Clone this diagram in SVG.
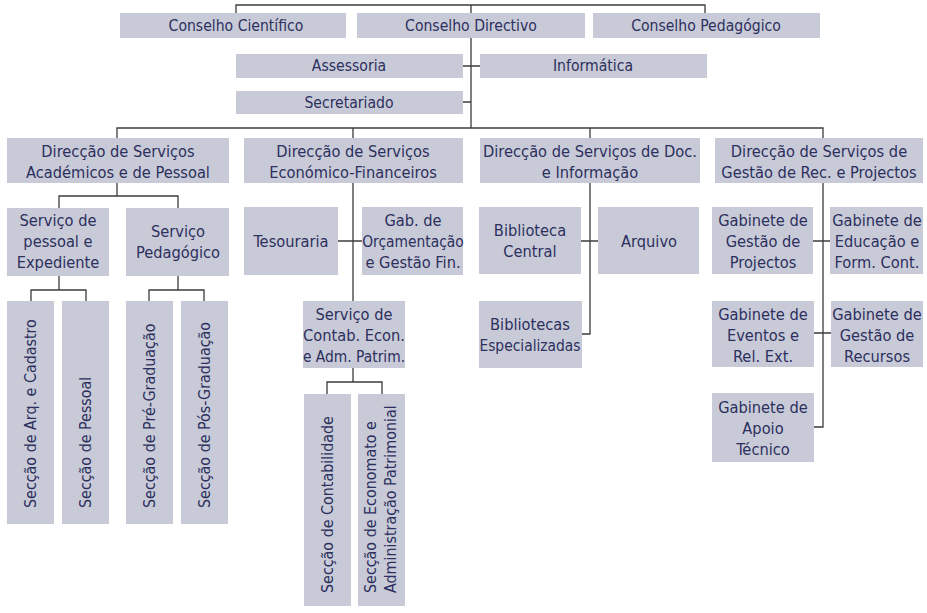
<svg xmlns="http://www.w3.org/2000/svg" width="927" height="613" viewBox="0 0 927 613">
<style>
  .box { fill: #c8cbd7; }
  .t { font-family: 'DejaVu Sans Condensed', 'DejaVu Sans', sans-serif; font-stretch: condensed; font-size: 16.3px; fill: #2d2f5e; text-anchor: middle; }
  .s { font-size: 15.6px; }
  .n { font-size: 15.4px; }
  .v { font-family: 'DejaVu Sans Condensed', 'DejaVu Sans', sans-serif; font-stretch: condensed; font-size: 15.9px; fill: #2d2f5e; text-anchor: start; }
  .c { fill: none; stroke: #3c3c3c; stroke-width: 1.3; }
</style>
<rect width="927" height="613" fill="#ffffff"/>
<g id="connectors">
  <path class="c" d="M236,13 V5 H705 V13 M471,5 V13 M471,38 V128"/>
  <path class="c" d="M463,66 H480 M463,102 H471"/>
  <path class="c" d="M117,138 V128 H823 V138 M353,128 V138 M590,128 V138"/>
  <path class="c" d="M117,183 V196 M59,208 V196 H178 V208"/>
  <path class="c" d="M59,276 V290 M31,301 V290 H86 V301"/>
  <path class="c" d="M178,276 V290 M149,301 V290 H204 V301"/>
  <path class="c" d="M353,183 V301 M338,241 H362"/>
  <path class="c" d="M353,368 V382 M327,394 V382 H382 V394"/>
  <path class="c" d="M590,183 V334 H582 M581,241 H598"/>
  <path class="c" d="M823,183 V427 H814 M813,241 H830 M814,333 H831"/>
</g>
<g id="conselho-cientifico"><rect class="box" x="120" y="13" width="226" height="25"/><text class="t s" x="236" y="31">Conselho Científico</text></g>
<g id="conselho-directivo"><rect class="box" x="357" y="13" width="228" height="25"/><text class="t s" x="471" y="31">Conselho Directivo</text></g>
<g id="conselho-pedagogico"><rect class="box" x="593" y="13" width="227" height="25"/><text class="t s" x="706" y="31">Conselho Pedagógico</text></g>
<g id="assessoria"><rect class="box" x="236" y="54" width="227" height="24"/><text class="t s" x="349" y="71">Assessoria</text></g>
<g id="informatica"><rect class="box" x="480" y="54" width="227" height="24"/><text class="t s" x="593" y="71">Informática</text></g>
<g id="secretariado"><rect class="box" x="236" y="91" width="227" height="23"/><text class="t s" x="349" y="108">Secretariado</text></g>

<g id="ds-academicos"><rect class="box" x="7" y="138" width="222" height="45"/><text class="t" x="118" y="157">Direcção de Serviços</text><text class="t" x="118" y="178">Académicos e de Pessoal</text></g>
<g id="ds-economico"><rect class="box" x="244" y="138" width="219" height="45"/><text class="t" x="353" y="157">Direcção de Serviços</text><text class="t" x="353" y="178">Económico-Financeiros</text></g>
<g id="ds-doc"><rect class="box" x="480" y="138" width="220" height="45"/><text class="t" x="590" y="157">Direcção de Serviços de Doc.</text><text class="t" x="590" y="178">e Informação</text></g>
<g id="ds-gestao"><rect class="box" x="715" y="138" width="208" height="45"/><text class="t" x="819" y="157">Direcção de Serviços de</text><text class="t" x="819" y="178">Gestão de Rec. e Projectos</text></g>

<g id="servico-pessoal"><rect class="box" x="7" y="208" width="102" height="68"/><text class="t" x="58" y="226">Serviço de</text><text class="t" x="58" y="247">pessoal e</text><text class="t" x="58" y="268">Expediente</text></g>
<g id="servico-pedagogico"><rect class="box" x="126" y="208" width="103" height="68"/><text class="t" x="178" y="237">Serviço</text><text class="t" x="178" y="258">Pedagógico</text></g>
<g id="tesouraria"><rect class="box" x="244" y="207" width="94" height="68"/><text class="t" x="291" y="247">Tesouraria</text></g>
<g id="gab-orcamentacao"><rect class="box" x="362" y="207" width="101" height="68"/><text class="t" x="413" y="226">Gab. de</text><text class="t n" x="413" y="247">Orçamentação</text><text class="t" x="413" y="268">e Gestão Fin.</text></g>
<g id="biblioteca-central"><rect class="box" x="479" y="207" width="102" height="67"/><text class="t" x="530" y="236">Biblioteca</text><text class="t" x="530" y="257">Central</text></g>
<g id="arquivo"><rect class="box" x="598" y="207" width="101" height="67"/><text class="t" x="649" y="247">Arquivo</text></g>
<g id="gab-gestao-projectos"><rect class="box" x="712" y="207" width="101" height="67"/><text class="t" x="763" y="226">Gabinete de</text><text class="t" x="763" y="247">Gestão de</text><text class="t" x="763" y="268">Projectos</text></g>
<g id="gab-educacao"><rect class="box" x="830" y="207" width="93" height="67"/><text class="t" x="877" y="226">Gabinete de</text><text class="t" x="877" y="247">Educação e</text><text class="t" x="877" y="268">Form. Cont.</text></g>

<g id="servico-contab"><rect class="box" x="303" y="301" width="102" height="67"/><text class="t" x="354" y="320">Serviço de</text><text class="t" x="354" y="341">Contab. Econ.</text><text class="t n" x="354" y="362">e Adm. Patrim.</text></g>
<g id="bibliotecas-especializadas"><rect class="box" x="479" y="301" width="103" height="67"/><text class="t" x="530" y="330">Bibliotecas</text><text class="t n" x="530" y="351">Especializadas</text></g>
<g id="gab-eventos"><rect class="box" x="712" y="301" width="102" height="66"/><text class="t" x="763" y="320">Gabinete de</text><text class="t" x="763" y="341">Eventos e</text><text class="t" x="763" y="362">Rel. Ext.</text></g>
<g id="gab-recursos"><rect class="box" x="831" y="301" width="92" height="66"/><text class="t" x="877" y="320">Gabinete de</text><text class="t" x="877" y="341">Gestão de</text><text class="t" x="877" y="362">Recursos</text></g>
<g id="gab-apoio"><rect class="box" x="712" y="393" width="102" height="69"/><text class="t" x="763" y="413">Gabinete de</text><text class="t" x="763" y="434">Apoio</text><text class="t" x="763" y="455">Técnico</text></g>

<g id="seccao-arq"><rect class="box" x="7" y="301" width="47" height="223"/><text class="v" transform="translate(36,508) rotate(-90)">Secção de Arq. e Cadastro</text></g>
<g id="seccao-pessoal"><rect class="box" x="62" y="301" width="47" height="223"/><text class="v" transform="translate(91,508) rotate(-90)">Secção de Pessoal</text></g>
<g id="seccao-pre"><rect class="box" x="126" y="301" width="47" height="223"/><text class="v" transform="translate(155,508) rotate(-90)">Secção de Pré-Graduação</text></g>
<g id="seccao-pos"><rect class="box" x="181" y="301" width="47" height="223"/><text class="v" transform="translate(210,508) rotate(-90)">Secção de Pós-Graduação</text></g>
<g id="seccao-contabilidade"><rect class="box" x="304" y="394" width="47" height="212"/><text class="v" transform="translate(333,593) rotate(-90)">Secção de Contabilidade</text></g>
<g id="seccao-economato"><rect class="box" x="358" y="394" width="47" height="212"/><text class="v" transform="translate(376,593) rotate(-90)">Secção de Economato e</text><text class="v" transform="translate(396,593) rotate(-90)">Administração Patrimonial</text></g>
</svg>
